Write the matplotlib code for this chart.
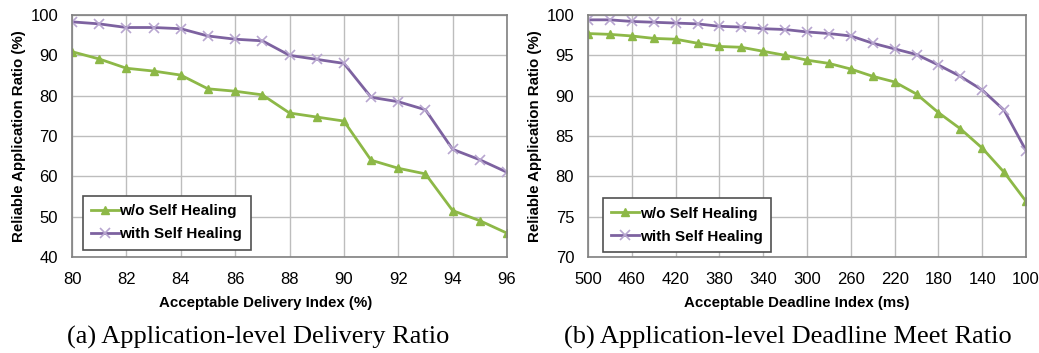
import numpy as np
import matplotlib.pyplot as plt

plt.rcParams['font.family'] = 'sans-serif'
plt.rcParams['font.sans-serif'] = ['Liberation Sans', 'Arial', 'DejaVu Sans']

# Data: (a) delivery ratio
delivery_idx = [80, 81, 82, 83, 84, 85, 86, 87, 88, 89, 90, 91, 92, 93, 94, 95, 96]
deliv_wo = [90.9, 89.1, 86.8, 86.1, 85.1, 81.7, 81.1, 80.2, 75.7, 74.7, 73.7, 64.0, 62.0, 60.6, 51.5, 49.0, 45.9]
deliv_with = [98.3, 97.8, 96.9, 96.9, 96.6, 94.8, 94.0, 93.6, 90.0, 89.0, 88.0, 79.6, 78.5, 76.5, 66.7, 64.1, 61.0]

# Data: (b) deadline meet ratio
deadline_idx = [500, 480, 460, 440, 420, 400, 380, 360, 340, 320, 300,
                280, 260, 240, 220, 200, 180, 160, 140, 120, 100]
dead_wo = [97.7, 97.6, 97.4, 97.1, 97.0, 96.5, 96.1, 96.0, 95.5, 95.0, 94.4,
           94.0, 93.3, 92.4, 91.7, 90.2, 87.9, 85.9, 83.5, 80.5, 76.9]
dead_with = [99.4, 99.4, 99.2, 99.1, 99.0, 98.9, 98.6, 98.5, 98.3, 98.2, 97.9,
             97.7, 97.4, 96.5, 95.8, 95.1, 93.8, 92.4, 90.7, 88.2, 83.2]

green = '#8DB847'
purple = '#7D62A0'
purple_mk = '#B8A6D0'
grid_color = '#BDBDBD'
frame_color = '#808080'

fig = plt.figure(figsize=(10.39, 3.53), dpi=100)
ax1 = fig.add_axes([0.0693, 0.272, 0.4187, 0.6855])
ax2 = fig.add_axes([0.566, 0.272, 0.4215, 0.6855])


def style_axes(ax):
    ax.set_axisbelow(True)
    ax.grid(True, color=grid_color, linewidth=1.0)
    for s in ax.spines.values():
        s.set_color(frame_color)
        s.set_linewidth(1.2)
    ax.tick_params(length=0, labelsize=12)
    ax.tick_params(axis='x', pad=11)
    ax.tick_params(axis='y', pad=10)
    ax.set_ylabel('Reliable Application Ratio (%)', fontsize=10.8, weight='bold', labelpad=3)


def draw(ax, x, wo, wi, anchor):
    ax.plot(x, wo, color=green, linewidth=2, marker='^', markersize=6,
            markerfacecolor=green, markeredgecolor=green, label='w/o Self Healing')
    ax.plot(x, wi, color=purple, linewidth=2, marker='x', markersize=7,
            markeredgecolor=purple_mk, markeredgewidth=1.2, label='with Self Healing')
    leg = ax.legend(loc='lower left', bbox_to_anchor=anchor, borderaxespad=0, fontsize=11,
                    fancybox=False, framealpha=1, edgecolor='#505050',
                    handlelength=1.8, handletextpad=0.05, borderpad=0.55, labelspacing=0.6)
    leg.get_frame().set_linewidth(1.2)
    for t in leg.get_texts():
        t.set_fontweight('bold')


# (a)
style_axes(ax1)
draw(ax1, delivery_idx, deliv_wo, deliv_with, (0.025, 0.03))
ax1.set_xlim(80, 96)
ax1.set_ylim(40, 100)
ax1.set_xticks(np.arange(80, 97, 2))
ax1.set_yticks(np.arange(40, 101, 10))
ax1.set_xlabel('Acceptable Delivery Index (%)', fontsize=10.8, weight='bold')
ax1.xaxis.set_label_coords(0.444, -0.16)

# (b)
style_axes(ax2)
draw(ax2, deadline_idx, dead_wo, dead_with, (0.034, 0.02))
ax2.set_xlim(500, 100)
ax2.set_ylim(70, 100)
ax2.set_xticks(np.arange(500, 99, -40))
ax2.set_yticks(np.arange(70, 101, 5))
ax2.set_xlabel('Acceptable Deadline Index (ms)', fontsize=10.8, weight='bold')
ax2.xaxis.set_label_coords(0.477, -0.16)

fig.text(0.2488, 0.043, '(a) Application-level Delivery Ratio', ha='center', va='center',
         fontsize=19, family='Liberation Serif')
fig.text(0.7585, 0.043, '(b) Application-level Deadline Meet Ratio', ha='center', va='center',
         fontsize=19, family='Liberation Serif')

fig.savefig('out.png', dpi=100)
